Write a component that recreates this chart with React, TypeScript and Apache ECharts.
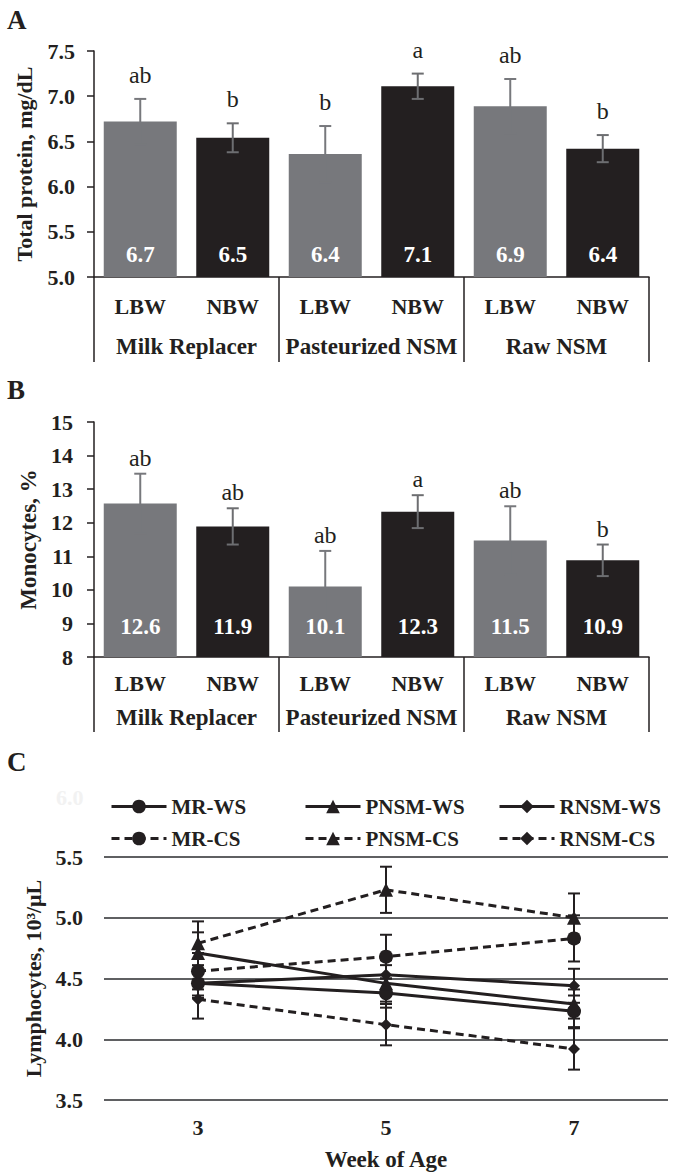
import React, { useEffect, useRef } from "react";
import * as echarts from "echarts";

// ---------- DATA ----------
const groups = ["Milk Replacer", "Pasteurized NSM", "Raw NSM"];
const bwCats = ["LBW", "NBW", "LBW", "NBW", "LBW", "NBW"];

const proteinMean = [6.72, 6.54, 6.36, 7.11, 6.89, 6.42];
const proteinSE = [0.25, 0.16, 0.31, 0.14, 0.3, 0.15];
const proteinLetters = ["ab", "b", "b", "a", "ab", "b"];

const monoMean = [12.57, 11.89, 10.1, 12.33, 11.47, 10.88];
const monoSE = [0.89, 0.54, 1.06, 0.49, 1.02, 0.47];
const monoLetters = ["ab", "ab", "ab", "a", "ab", "b"];

const weeks = ["3", "5", "7"];
const lymphNames = ["MR-WS", "PNSM-WS", "RNSM-WS", "MR-CS", "PNSM-CS", "RNSM-CS"];
const lymphSymbols = ["circle", "triangle", "diamond", "circle", "triangle", "diamond"];
const lymphDashed = [false, false, false, true, true, true];
const mrWS = [4.46, 4.38, 4.23];
const pnsmWS = [4.71, 4.46, 4.29];
const rnsmWS = [4.46, 4.53, 4.44];
const mrCS = [4.56, 4.68, 4.83];
const pnsmCS = [4.79, 5.23, 5.0];
const rnsmCS = [4.33, 4.12, 3.92];
const mrWSse = [0.12, 0.12, 0.13];
const pnsmWSse = [0.17, 0.15, 0.12];
const rnsmWSse = [0.1, 0.12, 0.14];
const mrCSse = [0.15, 0.18, 0.19];
const pnsmCSse = [0.18, 0.19, 0.2];
const rnsmCSse = [0.16, 0.17, 0.17];
const lymphMeans = [mrWS, pnsmWS, rnsmWS, mrCS, pnsmCS, rnsmCS];
const lymphSEs = [mrWSse, pnsmWSse, rnsmWSse, mrCSse, pnsmCSse, rnsmCSse];

// ---------- STYLE ----------
const FONT = "'Liberation Serif', 'Times New Roman', serif";
const INK = "#231f20";
const GRAY = "#77787c";
const EB = "#6d6e71";

function errorBarSeries(
  xAxisIndex: number,
  yAxisIndex: number,
  mean: number[],
  se: number[],
  letters: string[],
  letterGap: number,
  base: number,
  labelDist: number
) {
  return {
    type: "custom",
    xAxisIndex,
    yAxisIndex,
    z: 5,
    silent: true,
    data: mean.map((m, i) => [i, m - se[i], m + se[i], m]),
    renderItem: (params: any, api: any) => {
      const i = params.dataIndex;
      const top = api.coord([api.value(0), api.value(2)]);
      const bot = api.coord([api.value(0), api.value(1)]);
      const baseY = api.coord([api.value(0), base])[1];
      const x = top[0];
      const hw = 6;
      const col = i % 2 === 0 ? GRAY : EB;
      const st = { stroke: col, lineWidth: 2 };
      return {
        type: "group",
        children: [
          { type: "line", shape: { x1: x, y1: top[1], x2: x, y2: bot[1] }, style: st },
          { type: "line", shape: { x1: x - hw, y1: top[1], x2: x + hw, y2: top[1] }, style: st },
          { type: "line", shape: { x1: x - hw, y1: bot[1], x2: x + hw, y2: bot[1] }, style: st },
          {
            type: "text",
            x,
            y: top[1] - letterGap,
            style: {
              text: letters[i],
              fill: INK,
              fontFamily: FONT,
              fontSize: 24,
              align: "center",
              verticalAlign: "bottom",
            },
          },
          {
            type: "text",
            x,
            y: baseY - labelDist,
            style: {
              text: Number(api.value(3)).toFixed(1),
              fill: "#ffffff",
              fontFamily: FONT,
              fontWeight: "bold",
              fontSize: 23,
              align: "center",
              verticalAlign: "bottom",
            },
          },
        ],
      };
    },
  };
}

function barSeries(xAxisIndex: number, yAxisIndex: number, mean: number[]) {
  return {
    type: "bar",
    xAxisIndex,
    yAxisIndex,
    barWidth: 73,
    z: 2,
    data: mean.map((v, i) => ({ value: v, itemStyle: { color: i % 2 === 0 ? GRAY : INK } })),
  };
}

const axisLineStyle = { color: INK, width: 1.5 };
const tickLabel = { fontFamily: FONT, fontWeight: "bold", fontSize: 22, color: INK };

function catAxes(gridIndex: number, catMargin: number, groupMargin: number, tickLen: number) {
  return [
    {
      type: "category",
      gridIndex,
      data: bwCats,
      position: "bottom",
      axisLine: { show: true, onZero: false, lineStyle: axisLineStyle },
      axisTick: { show: false },
      axisLabel: { ...tickLabel, interval: 0, margin: catMargin },
    },
    {
      type: "category",
      gridIndex,
      data: groups,
      position: "bottom",
      axisLine: { show: false },
      axisTick: { show: true, interval: 0, length: tickLen, lineStyle: axisLineStyle },
      axisLabel: { ...tickLabel, fontSize: 23, interval: 0, margin: groupMargin },
    },
  ];
}

function buildOption() {
  const xAxis = [
    ...catAxes(0, 18, 58, 85),
    ...catAxes(1, 15, 49, 75),
    {
      type: "category",
      gridIndex: 2,
      data: weeks,
      boundaryGap: true,
      axisLine: { show: false },
      axisTick: { show: false },
      axisLabel: { ...tickLabel, margin: 16 },
      name: "Week of Age",
      nameLocation: "middle",
      nameGap: 48,
      nameTextStyle: { fontFamily: FONT, fontWeight: "bold", fontSize: 23, color: INK },
    },
  ];

  const yAxis = [
    {
      type: "value",
      gridIndex: 0,
      min: 5,
      max: 7.5,
      interval: 0.5,
      axisLine: { show: true, lineStyle: axisLineStyle },
      axisTick: { show: true, length: 7, lineStyle: axisLineStyle },
      splitLine: { show: false },
      axisLabel: { ...tickLabel, margin: 19, formatter: (v: number) => v.toFixed(1) },
      name: "Total protein, mg/dL",
      nameLocation: "middle",
      nameGap: 59,
      nameTextStyle: { fontFamily: FONT, fontWeight: "bold", fontSize: 22, color: INK },
    },
    {
      type: "value",
      gridIndex: 1,
      min: 8,
      max: 15,
      interval: 1,
      axisLine: { show: true, lineStyle: axisLineStyle },
      axisTick: { show: true, length: 7, lineStyle: axisLineStyle },
      splitLine: { show: false },
      axisLabel: { ...tickLabel, margin: 21 },
      name: "Monocytes, %",
      nameLocation: "middle",
      nameGap: 51,
      nameTextStyle: { fontFamily: FONT, fontWeight: "bold", fontSize: 23, color: INK },
    },
    {
      type: "value",
      gridIndex: 2,
      min: 3.5,
      max: 5.5,
      interval: 0.5,
      axisLine: { show: false },
      axisTick: { show: false },
      splitLine: { show: true, lineStyle: { color: "#5f6062", width: 2 } },
      axisLabel: { ...tickLabel, margin: 21, formatter: (v: number) => v.toFixed(1) },
      name: "Lymphocytes, 10³/μL",
      nameLocation: "middle",
      nameGap: 58,
      nameTextStyle: { fontFamily: FONT, fontWeight: "bold", fontSize: 22, color: INK },
    },
  ];

  const lineSeries = lymphNames.map((name, k) => ({
    type: "line",
    name,
    xAxisIndex: 4,
    yAxisIndex: 2,
    data: lymphMeans[k],
    symbol: lymphSymbols[k],
    symbolSize: lymphSymbols[k] === "diamond" ? 12 : 14,
    z: 4,
    lineStyle: { color: INK, width: 3, type: lymphDashed[k] ? [8, 5] : "solid" },
    itemStyle: { color: INK },
  }));

  const lineErr = {
    type: "custom",
    xAxisIndex: 4,
    yAxisIndex: 2,
    z: 3,
    silent: true,
    data: lymphMeans.flatMap((arr, k) => arr.map((m, i) => [i, m - lymphSEs[k][i], m + lymphSEs[k][i]])),
    renderItem: (params: any, api: any) => {
      const top = api.coord([api.value(0), api.value(2)]);
      const bot = api.coord([api.value(0), api.value(1)]);
      const x = top[0];
      const hw = 6;
      const st = { stroke: INK, lineWidth: 2 };
      return {
        type: "group",
        children: [
          { type: "line", shape: { x1: x, y1: top[1], x2: x, y2: bot[1] }, style: st },
          { type: "line", shape: { x1: x - hw, y1: top[1], x2: x + hw, y2: top[1] }, style: st },
          { type: "line", shape: { x1: x - hw, y1: bot[1], x2: x + hw, y2: bot[1] }, style: st },
        ],
      };
    },
  };

  const legendX = [110, 304, 498];
  const legend = lymphNames.map((name, k) => ({
    data: [name],
    left: legendX[k % 3],
    top: k < 3 ? 796 : 828,
    itemWidth: 55,
    itemHeight: 17,
    padding: 0,
    selectedMode: false,
    lineStyle: { width: 3 },
    textStyle: { fontFamily: FONT, fontWeight: "bold", fontSize: 21, color: INK },
  }));

  const panelLabel = (t: string, y: number) => ({
    type: "text",
    left: 7,
    top: y,
    style: { text: t, fontFamily: FONT, fontWeight: "bold", fontSize: 27, fill: INK },
  });

  return {
    animation: false,
    backgroundColor: "#ffffff",
    grid: [
      { left: 94, right: 31, top: 51, height: 226 },
      { left: 94, right: 31, top: 422, height: 235 },
      { left: 104, right: 12, top: 857, height: 243 },
    ],
    xAxis,
    yAxis,
    legend,
    graphic: [
      panelLabel("A", 6),
      panelLabel("B", 376),
      panelLabel("C", 748),
      {
        type: "text",
        left: 56,
        top: 786,
        style: { text: "6.0", fontFamily: FONT, fontWeight: "bold", fontSize: 22, fill: "#f2f2f2" },
      },
    ],
    series: [
      barSeries(0, 0, proteinMean),
      errorBarSeries(0, 0, proteinMean, proteinSE, proteinLetters, 12, 5, 11),
      barSeries(2, 1, monoMean),
      errorBarSeries(2, 1, monoMean, monoSE, monoLetters, 4, 8, 19),
      lineErr,
      ...lineSeries,
    ],
  };
}

export default function App() {
  const ref = useRef<HTMLDivElement>(null);
  useEffect(() => {
    if (!ref.current) return;
    const chart = echarts.init(ref.current, undefined, { renderer: "svg" });
    chart.setOption(buildOption() as any);
    return () => chart.dispose();
  }, []);
  return (
    <div
      ref={ref}
      style={{ position: "absolute", left: 0, top: 0, width: 680, height: 1173, background: "#fff" }}
    />
  );
}
